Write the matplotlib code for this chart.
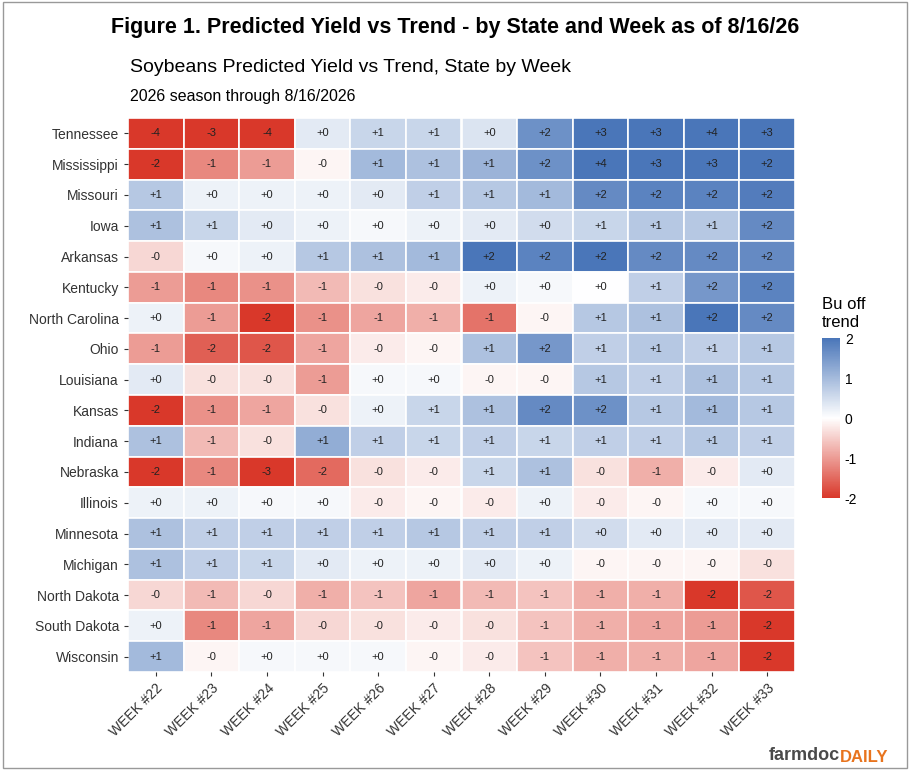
import numpy as np
import matplotlib.pyplot as plt
from matplotlib.colors import LinearSegmentedColormap, Normalize

states = ["Tennessee", "Mississippi", "Missouri", "Iowa", "Arkansas", "Kentucky",
          "North Carolina", "Ohio", "Louisiana", "Kansas", "Indiana", "Nebraska",
          "Illinois", "Minnesota", "Michigan", "North Dakota", "South Dakota", "Wisconsin"]
weeks = [f"WEEK #{w}" for w in range(22, 34)]

# bushels off trend
tennessee      = [-4.0, -3.0, -3.8, 0.3, 0.6, 0.6, 0.4, 1.6, 2.6, 2.7, 3.6, 2.8]
mississippi    = [-2.2, -1.2, -1.0, -0.1, 1.0, 0.9, 1.1, 1.6, 3.6, 2.8, 2.9, 2.2]
missouri       = [0.8, 0.2, 0.2, 0.2, 0.3, 0.7, 0.8, 1.0, 1.7, 1.8, 1.8, 1.9]
iowa           = [0.9, 0.6, 0.3, 0.2, 0.1, 0.2, 0.3, 0.5, 0.6, 0.8, 0.8, 1.7]
arkansas       = [-0.4, 0.1, 0.2, 0.8, 0.9, 1.0, 2.0, 1.8, 2.0, 1.7, 1.7, 1.7]
kentucky       = [-1.0, -1.2, -1.1, -0.7, -0.3, -0.2, 0.2, 0.1, 0.0, 0.7, 1.5, 1.8]
north_carolina = [0.2, -1.0, -2.0, -1.1, -0.9, -0.8, -1.4, -0.1, 0.8, 0.9, 2.0, 1.7]
ohio           = [-1.0, -1.6, -1.7, -0.9, -0.2, -0.1, 0.9, 1.5, 0.7, 0.8, 0.7, 0.8]
louisiana      = [0.3, -0.3, -0.3, -1.0, 0.1, 0.1, -0.1, -0.1, 0.8, 0.7, 0.9, 0.8]
kansas         = [-2.0, -1.1, -0.9, -0.3, 0.2, 0.6, 0.9, 1.7, 1.6, 0.8, 1.0, 0.8]
indiana        = [0.9, -0.7, -0.3, 1.2, 0.7, 0.6, 0.7, 0.6, 0.7, 0.7, 0.8, 0.7]
nebraska       = [-2.0, -1.2, -2.8, -1.5, -0.3, -0.2, 0.6, 0.9, -0.3, -0.8, -0.2, 0.3]
illinois       = [0.2, 0.2, 0.1, 0.1, -0.2, -0.1, -0.2, 0.2, -0.2, -0.1, 0.1, 0.1]
minnesota      = [0.9, 0.7, 0.7, 0.7, 0.7, 0.8, 0.7, 0.7, 0.5, 0.3, 0.3, 0.3]
michigan       = [0.9, 0.7, 0.6, 0.3, 0.2, 0.2, 0.3, 0.2, -0.1, -0.1, -0.1, -0.3]
north_dakota   = [-0.4, -0.7, -0.4, -0.8, -0.6, -0.9, -0.7, -0.6, -0.8, -0.8, -2.0, -1.7]
south_dakota   = [0.2, -1.2, -0.9, -0.4, -0.3, -0.2, -0.3, -0.6, -0.8, -0.9, -1.0, -2.0]
wisconsin      = [1.0, -0.1, 0.1, 0.1, 0.1, -0.1, -0.2, -0.6, -0.8, -0.8, -0.9, -2.0]

data = np.array([tennessee, mississippi, missouri, iowa, arkansas, kentucky,
                 north_carolina, ohio, louisiana, kansas, indiana, nebraska,
                 illinois, minnesota, michigan, north_dakota, south_dakota, wisconsin])

cmap = LinearSegmentedColormap.from_list("rwb", ["#d9382a", "#ffffff", "#4a76b9"])
norm = Normalize(-2, 2)

fig = plt.figure(figsize=(9.1, 7.7), dpi=100)
W, H = 910, 770
def box(x0, y0, x1, y1):
    return [x0 / W, 1 - y1 / H, (x1 - x0) / W, (y1 - y0) / H]

ax = fig.add_axes(box(128, 118, 795, 672))
ax.set_facecolor("#ebebeb")
nr, nc = data.shape
for i in range(nr):
    for j in range(nc):
        v = data[i, j]
        ax.add_patch(plt.Rectangle((j, i), 1, 1, facecolor=cmap(norm(np.clip(v, -2, 2))),
                                   edgecolor="white", linewidth=1.2))
        ax.text(j + 0.5, i + 0.5, f"{v:+.0f}", ha="center", va="center", fontsize=8,
                color="#222222", family="Liberation Sans")
ax.set_xlim(0, nc)
ax.set_ylim(nr, 0)
ax.set_xticks(np.arange(nc) + 0.5)
ax.set_xticklabels(weeks, rotation=45, ha="right", rotation_mode="anchor",
                   fontsize=10, family="Liberation Sans", color="#333333")
ax.set_yticks(np.arange(nr) + 0.5)
ax.set_yticklabels(states, fontsize=10, family="Liberation Sans", color="#333333")
ax.tick_params(length=3, color="#333333")
for s in ax.spines.values():
    s.set_visible(False)

cax = fig.add_axes(box(822, 338, 840, 498))
sm = plt.cm.ScalarMappable(norm=norm, cmap=cmap)
cb = fig.colorbar(sm, cax=cax, ticks=[-2, -1, 0, 1, 2])
cb.outline.set_visible(False)
cb.ax.set_yticklabels(["-2", "-1", "0", "1", "2"])
cb.ax.tick_params(labelsize=10, length=0)
for t in cb.ax.get_yticklabels():
    t.set_family("Liberation Sans")
cax.set_title("Bu off\ntrend", fontsize=12, loc="left", family="Liberation Sans", pad=8)

fig.text(0.5, 1 - 28 / H, "Figure 1. Predicted Yield vs Trend - by State and Week as of 8/16/26",
         ha="center", va="center", fontsize=15.5, fontweight="bold", family="Liberation Sans")
fig.text(130 / W, 1 - 67 / H, "Soybeans Predicted Yield vs Trend, State by Week",
         ha="left", va="center", fontsize=14, family="Liberation Sans")
fig.text(130 / W, 1 - 96 / H, "2026 season through 8/16/2026",
         ha="left", va="center", fontsize=11.5, family="Liberation Sans")
fig.text(840 / W, 1 - 756 / H, "farmdoc", ha="right", va="center", fontsize=13,
         fontweight="bold", color="#4a4a4a", family="Liberation Sans")
fig.text(840 / W, 1 - 758 / H, "DAILY", ha="left", va="center", fontsize=12,
         fontweight="bold", color="#e8741e", family="Liberation Sans")
# frame around the whole figure
fig.add_artist(plt.Rectangle((0.003, 0.003), 0.994, 0.994, transform=fig.transFigure,
                             fill=False, edgecolor="#999999", linewidth=1))
fig.savefig("out.png", dpi=100)
